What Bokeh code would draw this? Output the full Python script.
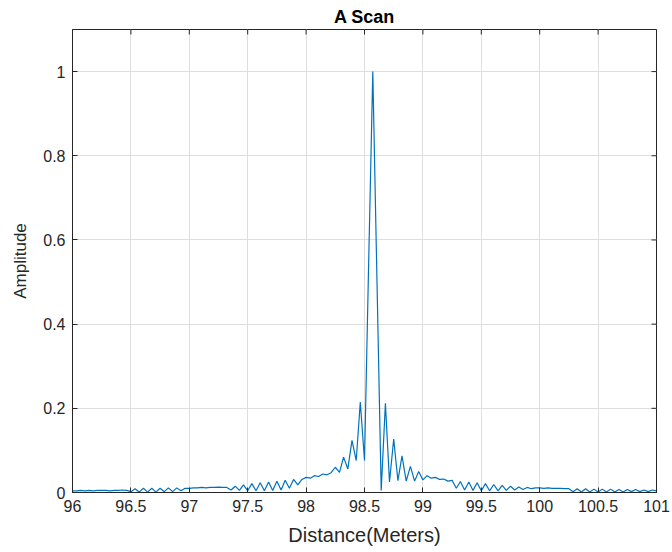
import math
from bokeh.plotting import figure
from bokeh.models import Range1d, FixedTicker
from bokeh.embed import file_html
from bokeh.resources import INLINE

# ---- data ----
distance = [
    96.000, 96.036, 96.071, 96.107, 96.143, 96.179, 96.214, 96.250, 96.286, 96.321, 96.357, 96.393, 96.429, 96.464,
    96.500, 96.536, 96.571, 96.607, 96.643, 96.679, 96.714, 96.750, 96.786, 96.821, 96.857, 96.893, 96.929, 96.964,
    97.000, 97.036, 97.071, 97.107, 97.143, 97.179, 97.214, 97.250, 97.286, 97.321, 97.357, 97.393, 97.429, 97.464,
    97.500, 97.536, 97.571, 97.607, 97.643, 97.679, 97.714, 97.750, 97.786, 97.821, 97.857, 97.893, 97.929, 97.964,
    98.000, 98.036, 98.071, 98.107, 98.143, 98.179, 98.214, 98.250, 98.286, 98.321, 98.357, 98.393, 98.429, 98.464,
    98.500, 98.536, 98.571, 98.607, 98.643, 98.679, 98.714, 98.750, 98.786, 98.821, 98.857, 98.893, 98.929, 98.964,
    99.000, 99.036, 99.071, 99.107, 99.143, 99.179, 99.214, 99.250, 99.286, 99.321, 99.357, 99.393, 99.429, 99.464,
    99.500, 99.536, 99.571, 99.607, 99.643, 99.679, 99.714, 99.750, 99.786, 99.821, 99.857, 99.893, 99.929, 99.964,
    100.000, 100.036, 100.071, 100.107, 100.143, 100.179, 100.214, 100.250, 100.286, 100.321, 100.357, 100.393, 100.429, 100.464,
    100.500, 100.536, 100.571, 100.607, 100.643, 100.679, 100.714, 100.750, 100.786, 100.821, 100.857, 100.893, 100.929, 100.964,
    101.000,
]
amplitude = [
    0.004, 0.004, 0.005, 0.004, 0.005, 0.004, 0.005, 0.005, 0.005, 0.004, 0.005, 0.005, 0.006, 0.005,
    0.002, 0.009, 0.001, 0.010, 0.001, 0.010, 0.001, 0.010, 0.002, 0.011, 0.002, 0.011, 0.004, 0.010,
    0.010, 0.011, 0.011, 0.012, 0.011, 0.012, 0.012, 0.013, 0.012, 0.012, 0.006, 0.015, 0.005, 0.018,
    0.004, 0.021, 0.004, 0.023, 0.004, 0.025, 0.005, 0.027, 0.006, 0.029, 0.010, 0.031, 0.018, 0.031,
    0.036, 0.034, 0.040, 0.038, 0.044, 0.042, 0.047, 0.060, 0.048, 0.084, 0.056, 0.124, 0.076, 0.215,
    0.076, 0.550, 1.000, 0.500, 0.005, 0.212, 0.025, 0.127, 0.028, 0.087, 0.027, 0.062, 0.027, 0.050,
    0.030, 0.040, 0.034, 0.036, 0.031, 0.032, 0.027, 0.029, 0.010, 0.026, 0.006, 0.025, 0.005, 0.023,
    0.004, 0.021, 0.004, 0.019, 0.004, 0.017, 0.005, 0.015, 0.006, 0.013, 0.007, 0.012, 0.009, 0.011,
    0.011, 0.010, 0.011, 0.010, 0.010, 0.010, 0.009, 0.009, 0.002, 0.009, 0.001, 0.009, 0.001, 0.008,
    0.001, 0.008, 0.001, 0.008, 0.001, 0.007, 0.001, 0.007, 0.002, 0.007, 0.002, 0.006, 0.002, 0.006,
    0.004,
]
x_ticks = [96, 96.5, 97, 97.5, 98, 98.5, 99, 99.5, 100, 100.5, 101]
x_tick_labels = ["96", "96.5", "97", "97.5", "98", "98.5", "99", "99.5", "100", "100.5", "101"]
y_ticks = [0, 0.2, 0.4, 0.6, 0.8, 1.0]
y_tick_labels = ["0", "0.2", "0.4", "0.6", "0.8", "1"]

TXT = "#262626"
FONT = "Liberation Sans"
X0, X1, Y0, Y1 = 96, 101, 0, 1.1

p = figure(width=672, height=552, output_backend="svg", toolbar_location=None,
           x_range=Range1d(X0, X1), y_range=Range1d(Y0, Y1),
           min_border_left=72, min_border_right=16, min_border_top=29, min_border_bottom=60,
           title="A Scan", x_axis_label="Distance(Meters)", y_axis_label="Amplitude")

p.background_fill_color = "white"
p.border_fill_color = "white"
p.outline_line_color = TXT
p.outline_line_width = 1

p.title.align = "center"
p.title.text_font = FONT
p.title.text_font_size = "18px"
p.title.text_font_style = "bold"
p.title.text_color = "#000000"
p.title.standoff = 6

p.xgrid.grid_line_color = "#dedede"
p.ygrid.grid_line_color = "#dedede"

p.line(distance, amplitude, line_color="#0072BD", line_width=1.2)

# inward ticks on the top and right edges of the box (clipped to the frame)
p.scatter(x_ticks, [Y1] * len(x_ticks), marker="dash", angle=math.pi / 2, size=10,
          line_color=TXT, line_width=1)
p.scatter([X1] * len(y_ticks), y_ticks, marker="dash", size=10,
          line_color=TXT, line_width=1)

p.xaxis.ticker = FixedTicker(ticks=x_ticks)
p.yaxis.ticker = FixedTicker(ticks=y_ticks)
p.xaxis.major_label_overrides = {t: l for t, l in zip(x_ticks, x_tick_labels)}
p.yaxis.major_label_overrides = {t: l for t, l in zip(y_ticks, y_tick_labels)}

for ax in (p.xaxis[0], p.yaxis[0]):
    ax.axis_line_color = TXT
    ax.major_tick_line_color = TXT
    ax.major_tick_in = 5
    ax.major_tick_out = 0
    ax.minor_tick_line_color = None
    ax.major_label_text_font = FONT
    ax.major_label_text_font_size = "16px"
    ax.major_label_text_color = TXT
    ax.axis_label_text_font = FONT
    ax.axis_label_text_font_style = "normal"
    ax.axis_label_text_color = TXT
    ax.major_label_standoff = 7
p.xaxis.axis_label_text_font_size = "20px"
p.yaxis.axis_label_text_font_size = "17px"
p.xaxis.axis_label_standoff = 9
p.yaxis.axis_label_standoff = 10

open("out.html", "w").write(file_html(p, INLINE))
